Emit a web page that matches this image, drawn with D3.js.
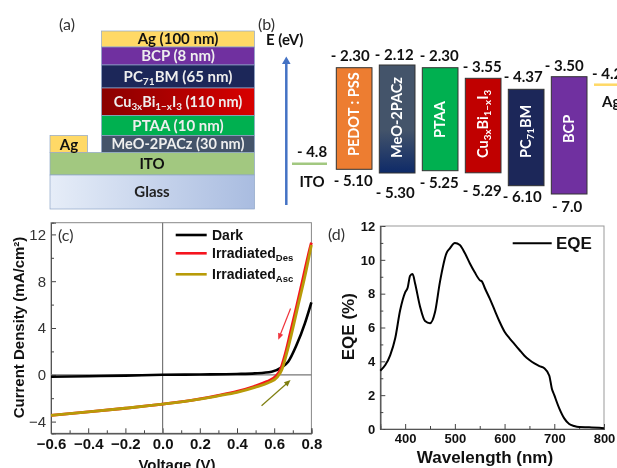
<!DOCTYPE html>
<html lang="en">
<head>
<meta charset="UTF-8">
<title>Device stack, energy levels, J-V and EQE</title>
<script src="https://cdn.jsdelivr.net/npm/d3@7"></script>
<style>
	html, body { margin: 0; padding: 0; background: #fff; overflow: hidden; }
	svg { display: block; filter: blur(0.4px); }
	svg text { font-family: "Liberation Sans", sans-serif; }
	.cal text { font-family: Lato, sans-serif; font-weight: 700; }
	text.tag { font-family: Lato, sans-serif; font-size: 16px; fill: #333; }
	.axis text { font-weight: 700; fill: #111; }
	.axis line { stroke: #444; }
</style>
</head>
<body>
<div id="viz"></div>
<script>
// (a) layers, top to bottom. Each label is a list of [text, "sub" or ""] runs
var layerNames = ['Ag', 'BCP', 'PC71BM', 'Cu3xBi1-xI3', 'PTAA', 'MeO-2PACz', 'ITO', 'Glass'];
var layerLabels = [
	[['Ag (100 nm)', '']],
	[['BCP (8 nm)', '']],
	[['PC', ''], ['71', 'sub'], ['BM (65 nm)', '']],
	[['Cu', ''], ['3x', 'sub'], ['Bi', ''], ['1\u2212x', 'sub'], ['I', ''], ['3', 'sub'], [' (110 nm)', '']],
	[['PTAA (10 nm)', '']],
	[['MeO-2PACz (30 nm)', '']],
	[['ITO', '']],
	[['Glass', '']]
];

// (b) energy levels in eV
var bandNames = ['PEDOT : PSS', 'MeO-2PACz', 'PTAA', 'Cu3xBi1-xI3', 'PC71BM', 'BCP'];
var bandLabels = [
	[['PEDOT : PSS', '']],
	[['MeO-2PACz', '']],
	[['PTAA', '']],
	[['Cu', ''], ['3x', 'sub'], ['Bi', ''], ['1\u2212x', 'sub'], ['I', ''], ['3', 'sub']],
	[['PC', ''], ['71', 'sub'], ['BM', '']],
	[['BCP', '']]
];
var bandTop = [-2.30, -2.12, -2.30, -3.55, -4.37, -3.50];
var bandBottom = [-5.10, -5.30, -5.25, -5.29, -6.10, -7.0];
var bandTopText = ['- 2.30', '- 2.12', '- 2.30', '- 3.55', '- 4.37', '- 3.50'];
var bandBottomText = ['- 5.10', '- 5.30', '- 5.25', '- 5.29', '- 6.10', '- 7.0'];
var itoLevel = -4.8;
var agLevel = -4.2;

// (c) J-V curves
var darkV = [-0.6, -0.4, -0.2, 0, 0.2, 0.4, 0.496, 0.586, 0.64, 0.675, 0.72, 0.765, 0.8];
var darkJ = [-0.17, -0.12, -0.07, 0, 0.03, 0.07, 0.12, 0.26, 0.63, 1.11, 2.54, 4.4, 6.2];
var desV = [-0.6, -0.4, -0.2, 0, 0.2, 0.3, 0.4, 0.49, 0.56, 0.61, 0.632, 0.66, 0.686, 0.722, 0.757, 0.795, 0.8];
var desJ = [-3.46, -3.17, -2.86, -2.51, -2.06, -1.76, -1.42, -1.0, -0.58, -0.1, 0.4, 1.83, 3.54, 5.95, 8.4, 11.0, 11.3];
var ascV = [-0.6, -0.4, -0.2, 0, 0.2, 0.3, 0.4, 0.496, 0.568, 0.618, 0.64, 0.667, 0.694, 0.729, 0.765, 0.8];
var ascJ = [-3.46, -3.17, -2.86, -2.51, -2.08, -1.8, -1.5, -1.08, -0.68, -0.17, 0.4, 1.83, 3.54, 5.95, 8.4, 11.1];
var voltTicks = [-0.6, -0.4, -0.2, 0, 0.2, 0.4, 0.6, 0.8];
var voltMinor = [-0.5, -0.3, -0.1, 0.1, 0.3, 0.5, 0.7];
var currentTicks = [-4, 0, 4, 8, 12];
var currentMinor = [-2, 2, 6, 10];
var desArrow = [[0.688, 5.67], [0.622, 3.0]];
var ascArrow = [[0.532, -2.65], [0.688, -0.45]];

// (d) EQE spectrum
var wavelength = [350, 360, 370, 380, 390, 400, 405, 410, 415, 420, 430, 440, 450, 460, 470, 483, 490, 500, 510, 520,
	530, 540, 550, 555, 560, 570, 580, 590, 600, 610, 620, 630, 640, 650, 660, 670, 680, 690, 695, 700,
	710, 720, 730, 740, 750, 770, 800];
var eqe = [3.45, 3.78, 4.37, 5.36, 7.03, 8.08, 8.35, 9.06, 9.16, 8.6, 7.23, 6.38, 6.25, 6.9, 8.7, 10.38, 10.68, 11.0, 10.88, 10.4,
	9.8, 9.26, 8.8, 8.7, 8.35, 7.72, 7.03, 6.34, 5.75, 5.36, 5.02, 4.67, 4.33, 4.08, 3.88, 3.72, 3.59, 3.15, 2.4, 2.0,
	1.22, 0.63, 0.3, 0.18, 0.12, 0.1, 0.05];
var waveTicks = [400, 500, 600, 700, 800];
var waveMinor = [450, 550, 650, 750];
var eqeTicks = [0, 2, 4, 6, 8, 10, 12];
var eqeMinor = [1, 3, 5, 7, 9, 11];

var svg = d3.select('#viz').append('svg').attr('width', 617).attr('height', 468);
var defs = svg.append('defs');

function gradient(id, vertical, from, to) {
	var g = defs.append('linearGradient').attr('id', id)
		.attr('x1', 0).attr('y1', 0).attr('x2', vertical ? 0 : 1).attr('y2', vertical ? 1 : 0);
	g.append('stop').attr('offset', vertical ? '0.6' : '0').attr('stop-color', from);
	g.append('stop').attr('offset', '1').attr('stop-color', to);
}
gradient('cuGrad', false, '#8a0000', '#d80000');
gradient('glassGrad', false, '#e6edf8', '#a9bce0');
gradient('meoGrad', true, '#44546a', '#0e2a68');

// writes runs of text with lowered small subscripts
function runs(sel, parts, size) {
	parts.forEach(function (p, i) {
		var t = sel.append('tspan').text(p[0]);
		if (p[1] === 'sub') {
			t.attr('font-size', size * 0.68).attr('dy', size * 0.22);
		} else if (i > 0 && parts[i - 1][1] === 'sub') {
			t.attr('dy', -size * 0.22);
		}
	});
}

// ---------- (a) ----------
var a = svg.append('g').attr('class', 'cal');
var layerRows = [[31, 47], [47, 65], [65, 88], [88, 115.5], [115.5, 135.5], [135.5, 152.5], [152.5, 175], [175, 209]];
var layerFill = ['#ffd966', '#7030a0', '#1c2759', 'url(#cuGrad)', '#00b050', '#44546a', '#a2c880', 'url(#glassGrad)'];
var layerText = ['#111', '#eee', '#eee', '#eee', '#eee', '#eee', '#111', '#222'];
var layerSize = [15, 15, 15, 14.5, 15, 14.5, 15, 15];

a.selectAll('rect.layer').data(layerNames).enter().append('rect')
	.attr('class', 'layer')
	.attr('x', function (d, i) { return i > 5 ? 50 : 101.5; })
	.attr('width', function (d, i) { return i > 5 ? 204.5 : 153; })
	.attr('y', function (d, i) { return layerRows[i][0]; })
	.attr('height', function (d, i) { return layerRows[i][1] - layerRows[i][0]; })
	.attr('fill', function (d, i) { return layerFill[i]; })
	.attr('stroke', '#8fa6c8').attr('stroke-width', 0.7);

a.selectAll('text.layerText').data(layerNames).enter().append('text')
	.attr('class', 'layerText')
	.attr('x', function (d, i) { return i > 5 ? 152 : 178; })
	.attr('y', function (d, i) { return (layerRows[i][0] + layerRows[i][1]) / 2 + 5; })
	.attr('text-anchor', 'middle').attr('font-size', function (d, i) { return layerSize[i]; })
	.attr('fill', function (d, i) { return layerText[i]; })
	.each(function (d, i) { runs(d3.select(this), layerLabels[i], layerSize[i]); });

a.append('rect').attr('x', 50).attr('y', 135.5).attr('width', 37.5).attr('height', 17)
	.attr('fill', '#ffd966').attr('stroke', '#8fa6c8').attr('stroke-width', 0.7);
a.append('text').attr('x', 69).attr('y', 150).attr('text-anchor', 'middle').attr('font-size', 15).attr('fill', '#111').text('Ag');

svg.append('text').attr('class', 'tag').attr('x', 59).attr('y', 30).text('(a)');
svg.append('text').attr('class', 'tag').attr('x', 258).attr('y', 30).text('(b)');

// ---------- (b) ----------
var b = svg.append('g').attr('class', 'cal');

// the level diagram is a schematic, so the energy axis is piecewise
var energy = d3.scaleLinear()
	.domain([-2.12, -2.30, -3.50, -3.55, -4.2, -4.37, -4.8, -5.10, -5.25, -5.29, -5.30, -6.10, -7.0])
	.range([65, 67.7, 76.7, 78.3, 84.7, 89.3, 163.7, 169.3, 170.7, 172.8, 173, 185.7, 194]);

var bandX = d3.scaleBand().domain(bandNames).range([336.3, 587]).paddingInner(0.17).paddingOuter(0);
var bandFill = ['#ed7d31', 'url(#meoGrad)', '#00b050', '#c00000', '#1c2759', '#7030a0'];
var topDx = [-4, -3, -1, -1, -3, -5];
var topGap = [6.5, 5.5, 6.5, 6, 7.5, 6];
var bottomDx = [-1, -2, -1, -1, -4, -2];
var bottomGap = [17, 25, 17.5, 23.5, 16, 18];

b.selectAll('rect.band').data(bandNames).enter().append('rect')
	.attr('class', 'band')
	.attr('x', function (d) { return bandX(d); })
	.attr('width', bandX.bandwidth())
	.attr('y', function (d, i) { return energy(bandTop[i]); })
	.attr('height', function (d, i) { return energy(bandBottom[i]) - energy(bandTop[i]); })
	.attr('fill', function (d, i) { return bandFill[i]; })
	.attr('stroke', '#333').attr('stroke-width', 1);

b.selectAll('text.topLevel').data(bandTopText).enter().append('text')
	.attr('class', 'topLevel')
	.attr('x', function (d, i) { return bandX(bandNames[i]) + bandX.bandwidth() / 2 + topDx[i]; })
	.attr('y', function (d, i) { return energy(bandTop[i]) - topGap[i]; })
	.attr('text-anchor', 'middle').attr('font-size', 15).attr('fill', '#111')
	.text(function (d) { return d; });

b.selectAll('text.bottomLevel').data(bandBottomText).enter().append('text')
	.attr('class', 'bottomLevel')
	.attr('x', function (d, i) { return bandX(bandNames[i]) + bandX.bandwidth() / 2 + bottomDx[i]; })
	.attr('y', function (d, i) { return energy(bandBottom[i]) + bottomGap[i]; })
	.attr('text-anchor', 'middle').attr('font-size', 15).attr('fill', '#111')
	.text(function (d) { return d; });

// band names run up the boxes, all but two start at the same height
var bandNameY = [156, 158, 138, 158, 158, 143];
b.selectAll('text.bandName').data(bandNames).enter().append('text')
	.attr('class', 'bandName')
	.attr('transform', function (d, i) {
		return 'translate(' + (bandX(d) + bandX.bandwidth() / 2 + 5) + ',' + bandNameY[i] + ') rotate(-90)';
	})
	.attr('font-size', 14.5).attr('fill', '#fff')
	.each(function (d, i) { runs(d3.select(this), bandLabels[i], 14.5); });

// contact levels
b.append('line').attr('x1', 292).attr('x2', 327).attr('y1', energy(itoLevel)).attr('y2', energy(itoLevel))
	.attr('stroke', '#a2c880').attr('stroke-width', 2.5);
b.append('line').attr('x1', 594).attr('x2', 617).attr('y1', energy(agLevel)).attr('y2', energy(agLevel))
	.attr('stroke', '#ffd966').attr('stroke-width', 2.5);
b.append('text').attr('x', 312).attr('y', 157).attr('text-anchor', 'middle').attr('font-size', 15).attr('fill', '#111').text('- ' + Math.abs(itoLevel));
b.append('text').attr('x', 312).attr('y', 187).attr('text-anchor', 'middle').attr('font-size', 15).attr('fill', '#111').text('ITO');
b.append('text').attr('x', 592).attr('y', 79).attr('font-size', 15).attr('fill', '#111').text('- ' + Math.abs(agLevel));
b.append('text').attr('x', 602).attr('y', 107).attr('font-size', 15).attr('fill', '#111').text('Ag');
b.append('text').attr('x', 266).attr('y', 45).attr('font-size', 15).attr('fill', '#111').text('E (eV)');

// energy arrow
b.append('line').attr('x1', 286.3).attr('x2', 286.3).attr('y1', 205).attr('y2', 62)
	.attr('stroke', '#4472c4').attr('stroke-width', 2.5);
b.append('path').attr('d', d3.line()([[282, 64], [286.3, 56.5], [290.6, 64]])).attr('fill', '#4472c4');

// ---------- (c) ----------
var cx = d3.scaleLinear().domain([-0.6, 0.8]).range([51, 311.4]);
var cy = d3.scaleLinear().domain([-5, 13]).range([433.3, 222.7]);
var c = svg.append('g');

c.append('rect').attr('x', 51).attr('y', 222.7).attr('width', 260.4).attr('height', 210.6)
	.attr('fill', 'none').attr('stroke', '#888');

c.append('g').attr('class', 'axis').attr('transform', 'translate(0,433.3)')
	.call(d3.axisBottom(cx).tickValues(voltTicks).tickSize(-5).tickPadding(5)
		.tickFormat(function (d) { return d3.format('.1f')(d).replace('-', '\u2212'); }))
	.selectAll('text').attr('font-size', 15);
c.append('g').attr('class', 'axis').attr('transform', 'translate(0,433.3)')
	.call(d3.axisBottom(cx).tickValues(voltMinor).tickSize(-3).tickFormat(''));
c.append('g').attr('class', 'axis').attr('transform', 'translate(51,0)')
	.call(d3.axisLeft(cy).tickValues(currentTicks).tickSize(-5).tickPadding(5)
		.tickFormat(function (d) { return String(d).replace('-', '\u2212'); }))
	.selectAll('text').attr('font-size', 15).style('font-weight', 400).style('fill', '#333');
c.append('g').attr('class', 'axis').attr('transform', 'translate(51,0)')
	.call(d3.axisLeft(cy).tickValues(currentMinor).tickSize(-3).tickFormat(''));
c.selectAll('.axis .domain').attr('stroke', '#555');

// zero lines
c.append('line').attr('x1', cx(0)).attr('x2', cx(0)).attr('y1', 222.7).attr('y2', 433.3).attr('stroke', '#777').attr('stroke-width', 1.2);
c.append('line').attr('x1', 51).attr('x2', 311.4).attr('y1', cy(0)).attr('y2', cy(0)).attr('stroke', '#777').attr('stroke-width', 1.2);

var jvLine = d3.line()
	.x(function (d) { return cx(d[0]); })
	.y(function (d) { return cy(d[1]); })
	.curve(d3.curveMonotoneX);

function jvCurve(vs, js, color, width) {
	c.append('path').attr('d', jvLine(d3.zip(vs, js)))
		.attr('fill', 'none').attr('stroke', color).attr('stroke-width', width);
}
jvCurve(darkV, darkJ, '#000', 2.6);
jvCurve(desV, desJ, '#f5141e', 2.8);
jvCurve(ascV, ascJ, '#b89b08', 2.8);

function drawArrow(pts, color) {
	var x1 = cx(pts[0][0]), y1 = cy(pts[0][1]), x2 = cx(pts[1][0]), y2 = cy(pts[1][1]);
	var ang = Math.atan2(y2 - y1, x2 - x1);
	c.append('line').attr('x1', x1).attr('y1', y1)
		.attr('x2', x2 - 4 * Math.cos(ang)).attr('y2', y2 - 4 * Math.sin(ang))
		.attr('stroke', color).attr('stroke-width', 1.2);
	var head = [[x2, y2],
		[x2 - 7 * Math.cos(ang - 0.4), y2 - 7 * Math.sin(ang - 0.4)],
		[x2 - 7 * Math.cos(ang + 0.4), y2 - 7 * Math.sin(ang + 0.4)]];
	c.append('path').attr('d', d3.line()(head) + 'Z').attr('fill', color);
}
drawArrow(desArrow, '#f0343c');
drawArrow(ascArrow, '#7f7f10');

// legend
var legendY = [235, 253.3, 274.3];
var legendColor = ['#000', '#f5141e', '#b89b08'];
var legendText = [[['Dark', '']], [['Irradiated', ''], ['Des', 'sub']], [['Irradiated', ''], ['Asc', 'sub']]];
c.selectAll('line.legend').data(legendY).enter().append('line')
	.attr('class', 'legend')
	.attr('x1', 175.7).attr('x2', 206.7)
	.attr('y1', function (d) { return d; }).attr('y2', function (d) { return d; })
	.attr('stroke', function (d, i) { return legendColor[i]; }).attr('stroke-width', 2.6);
c.selectAll('text.legend').data(legendY).enter().append('text')
	.attr('class', 'legend')
	.attr('x', 212).attr('y', function (d) { return d + 5; })
	.attr('font-size', 14).attr('font-weight', 700).attr('fill', '#111')
	.each(function (d, i) { runs(d3.select(this), legendText[i], 14); });

c.append('text').attr('class', 'tag').attr('x', 58).attr('y', 241).text('(c)');
c.append('text').attr('x', 177).attr('y', 469.5).attr('text-anchor', 'middle')
	.attr('font-size', 15).attr('font-weight', 700).attr('fill', '#111').text('Voltage (V)');
c.append('text').attr('transform', 'translate(24,327.5) rotate(-90)').attr('text-anchor', 'middle')
	.attr('font-size', 15).attr('font-weight', 700).attr('fill', '#111')
	.text('Current Density (mA/cm\u00b2)');

// ---------- (d) ----------
var dx = d3.scaleLinear().domain([350, 800]).range([380.3, 604]);
var dy = d3.scaleLinear().domain([0, 12]).range([429, 226]);
var d = svg.append('g');

d.append('rect').attr('x', 380.3).attr('y', 226).attr('width', 223.7).attr('height', 203)
	.attr('fill', 'none').attr('stroke', '#999');

d.append('g').attr('class', 'axis').attr('transform', 'translate(0,429)')
	.call(d3.axisBottom(dx).tickValues(waveTicks).tickSize(-5).tickPadding(5))
	.selectAll('text').attr('font-size', 13);
d.append('g').attr('class', 'axis').attr('transform', 'translate(0,429)')
	.call(d3.axisBottom(dx).tickValues(waveMinor).tickSize(-3).tickFormat(''));
d.append('g').attr('class', 'axis').attr('transform', 'translate(380.3,0)')
	.call(d3.axisLeft(dy).tickValues(eqeTicks).tickSize(-5).tickPadding(5))
	.selectAll('text').attr('font-size', 13);
d.append('g').attr('class', 'axis').attr('transform', 'translate(380.3,0)')
	.call(d3.axisLeft(dy).tickValues(eqeMinor).tickSize(-3).tickFormat(''));
d.selectAll('.axis .domain').attr('stroke', '#555');

var eqeLine = d3.line()
	.x(function (p) { return dx(p[0]); })
	.y(function (p) { return dy(p[1]); })
	.curve(d3.curveMonotoneX);
d.append('path').attr('d', eqeLine(d3.zip(wavelength, eqe)))
	.attr('fill', 'none').attr('stroke', '#000').attr('stroke-width', 2);

d.append('line').attr('x1', 512.7).attr('x2', 551.7).attr('y1', 243.3).attr('y2', 243.3)
	.attr('stroke', '#000').attr('stroke-width', 2);
d.append('text').attr('x', 556).attr('y', 249).attr('font-size', 17).attr('font-weight', 700).attr('fill', '#111').text('EQE');
d.append('text').attr('class', 'tag').attr('x', 328).attr('y', 240).text('(d)');
d.append('text').attr('x', 485).attr('y', 463).attr('text-anchor', 'middle')
	.attr('font-size', 17).attr('font-weight', 700).attr('fill', '#111').text('Wavelength (nm)');
d.append('text').attr('transform', 'translate(354,326.7) rotate(-90)').attr('text-anchor', 'middle')
	.attr('font-size', 17).attr('font-weight', 700).attr('fill', '#111').text('EQE (%)');
</script>
</body>
</html>
